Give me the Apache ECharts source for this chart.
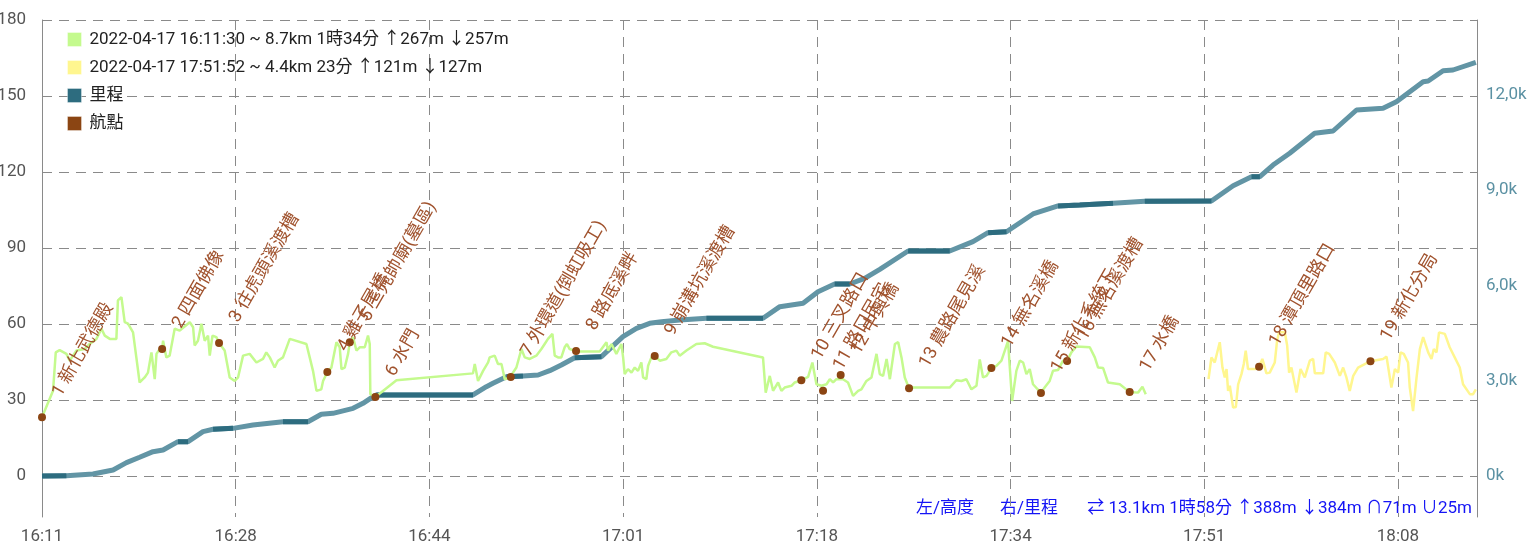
<!DOCTYPE html>
<html><head><meta charset="utf-8">
<script src="https://cdn.jsdelivr.net/npm/echarts@6/dist/echarts.min.js"></script>
<style>html,body{margin:0;padding:0;background:#fff}#c{width:1530px;height:544px}</style>
</head><body><div id="c"></div>
<script>
// ---- data ----
const START = '16:11:30';
const X_MAX_SEC = 7408;
const xTickLabels = ['16:11','16:28','16:44','17:01','17:18','17:34','17:51','18:08'];
const rightTickLabels = ['0k','3,0k','6,0k','9,0k','12,0k'];
const seriesNames = ['2022-04-17 16:11:30 ~ 8.7km 1時34分 ↑267m ↓257m','2022-04-17 17:51:52 ~ 4.4km 23分 ↑121m ↓127m','里程','航點'];
const summaryTexts = ['左/高度','右/里程','⇄ 13.1km 1時58分 ↑388m ↓384m ∩71m ∪25m'];

// [seconds since START, altitude m]
const track1 = [[0,23.2],[57,33.6],[71,48.8],[91,49.7],[126,48.2],[143,45.5],[160,47.5],[178,49.5],[220,50.1],[246,52.1],[281,54.1],[307,58.1],[324,55.4],[350,54.1],[384,54.1],[392,69.3],[410,70.6],[427,60.7],[444,60.1],[470,56.7],[487,46.8],[504,36.9],[530,38.9],[547,40.8],[565,48.8],[573,48.2],[582,38.2],[591,48.2],[608,50.1],[620,50.1],[625,53.4],[642,46.8],[659,47.5],[685,58.1],[711,57.4],[763,60.7],[780,58.7],[788,51.5],[805,53.4],[823,60.1],[840,53.4],[857,55.4],[866,47.5],[880,55.4],[900,54.8],[914,52.5],[943,49.5],[969,38.9],[995,37.5],[1012,38.9],[1038,47.5],[1072,48.2],[1107,44.8],[1141,46.2],[1158,48.8],[1176,46.8],[1201,42.8],[1218,45.5],[1244,46.8],[1279,54.1],[1365,52.1],[1382,46.8],[1399,41.5],[1417,33.6],[1442,34.2],[1451,37.5],[1473,41.0],[1494,42.8],[1520,52.8],[1537,50.8],[1546,42.2],[1563,42.8],[1580,48.2],[1589,52.8],[1606,54.8],[1623,49.5],[1640,50.8],[1666,50.8],[1683,55.4],[1692,52.1],[1695,32.3],[1721,31.2],[1830,37.8],[2225,40.5],[2234,44.2],[2251,37.5],[2277,41.5],[2303,44.8],[2311,46.8],[2337,47.5],[2354,44.2],[2372,44.2],[2389,38.2],[2415,38.9],[2449,42.8],[2475,50.1],[2492,46.8],[2518,46.2],[2552,47.5],[2578,50.1],[2595,52.1],[2612,54.1],[2635,56.1],[2647,47.5],[2664,46.8],[2681,46.8],[2698,50.8],[2710,52.1],[2724,50.1],[2757,49.3],[2776,49.1],[2879,49.1],[2914,52.8],[2922,49.5],[2940,52.1],[2965,48.2],[2991,52.1],[3000,46.8],[3008,40.2],[3025,42.2],[3043,40.8],[3060,42.8],[3077,41.5],[3094,44.8],[3103,38.9],[3120,38.2],[3129,43.5],[3146,46.8],[3163,47.4],[3189,45.5],[3223,46.2],[3249,48.8],[3275,49.5],[3292,47.5],[3327,49.5],[3378,52.1],[3421,52.4],[3464,51.0],[3722,46.8],[3736,32.9],[3757,39.5],[3774,33.6],[3800,36.9],[3817,33.6],[3834,34.9],[3869,35.6],[3886,36.9],[3920,37.8],[3955,39.1],[3977,44.8],[3998,36.2],[4024,35.6],[4032,35.0],[4050,36.2],[4067,38.2],[4084,36.9],[4101,38.2],[4135,38.2],[4161,36.9],[4187,31.6],[4213,33.6],[4230,34.2],[4256,37.5],[4282,38.9],[4308,48.2],[4325,40.2],[4342,39.5],[4360,46.2],[4377,38.2],[4403,52.1],[4420,52.8],[4437,46.8],[4454,38.9],[4476,34.6],[4497,34.9],[4686,34.9],[4720,37.8],[4746,37.5],[4772,38.2],[4798,34.2],[4824,35.6],[4841,46.0],[4858,38.9],[4876,39.5],[4901,42.6],[4927,43.5],[4953,45.5],[4987,53.2],[5008,29.6],[5030,41.5],[5048,45.5],[5065,44.8],[5082,40.2],[5099,42.2],[5116,36.2],[5157,32.8],[5176,34.9],[5202,37.5],[5219,41.5],[5245,41.8],[5271,45.5],[5292,45.4],[5314,48.8],[5340,51.1],[5409,50.8],[5435,46.8],[5452,42.8],[5478,42.6],[5503,36.9],[5564,36.2],[5615,33.1],[5658,32.9],[5681,35.2],[5698,32.3]];

const track2 = [[6022,38.2],[6037,46.8],[6054,44.8],[6080,52.8],[6094,42.8],[6106,38.9],[6115,42.2],[6123,33.6],[6132,35.6],[6149,27.0],[6163,27.2],[6175,36.2],[6192,40.2],[6204,44.2],[6214,49.5],[6226,42.2],[6261,42.2],[6283,43.1],[6300,46.2],[6321,40.5],[6338,40.8],[6364,44.8],[6376,53.4],[6386,56.7],[6416,56.7],[6428,51.5],[6438,40.8],[6450,42.8],[6476,32.9],[6497,42.2],[6519,38.9],[6545,45.5],[6562,46.2],[6571,40.5],[6614,40.5],[6627,48.8],[6645,48.2],[6674,44.8],[6700,39.5],[6717,42.8],[6734,38.9],[6751,33.6],[6769,39.5],[6794,42.8],[6858,45.3],[6923,46.2],[6941,47.1],[6966,34.9],[6984,42.2],[7001,40.8],[7013,48.8],[7030,48.2],[7052,44.8],[7061,34.9],[7078,25.6],[7096,38.9],[7113,50.1],[7130,54.8],[7156,48.8],[7173,46.2],[7185,50.1],[7199,48.8],[7212,56.7],[7242,56.1],[7267,50.8],[7293,46.8],[7319,42.8],[7336,36.2],[7371,32.3],[7388,32.3],[7402,34.2]];

// [seconds since START, cumulative distance m]
const mileage = [[0,0],[126,10],[263,63],[367,189],[436,420],[504,590],[573,766],[625,818],[702,1080],[754,1080],[831,1395],[883,1470],[986,1500],[1089,1605],[1244,1709],[1373,1709],[1442,1942],[1502,1973],[1606,2130],[1657,2288],[1709,2497],[1726,2550],[2225,2550],[2294,2811],[2328,2918],[2398,3126],[2483,3148],[2561,3180],[2621,3315],[2681,3494],[2750,3724],[2888,3756],[2999,4385],[3069,4649],[3137,4807],[3198,4857],[3292,4911],[3430,4964],[3722,4964],[3809,5330],[3929,5437],[4006,5802],[4092,6044],[4170,6044],[4247,6223],[4325,6507],[4471,7083],[4686,7083],[4806,7376],[4884,7659],[4979,7690],[5116,8248],[5245,8500],[5357,8532],[5529,8584],[5693,8647],[6037,8657],[6149,9139],[6244,9422],[6287,9422],[6355,9790],[6441,10159],[6570,10788],[6665,10861],[6786,11522],[6923,11575],[6992,11783],[7130,12413],[7156,12435],[7233,12759],[7284,12781],[7402,13023]];

const waypointNames = ['1 新化武德殿','2 四面佛像','3 往虎頭溪渡槽','4 雞子尾橋','5 三元帥廟(墓區)','6 水門','7 外環道(倒虹吸工)','8 路底溪畔','9 崩溝坑溪渡槽','10 三叉路口','11 路口民宅','12 中興橋','13 農路尾見溪','14 無名溪橋','15 新化系統下','16 無名溪渡槽','17 水橋','18 潭頂里路口','19 新化分局'];
const waypointTimes = ['16:11:30','16:21:50','16:26:44','16:36:03','16:37:59','16:40:11','16:51:50','16:57:27','17:04:13','17:16:50','17:18:42','17:20:13','17:26:06','17:33:11','17:37:27','17:39:42','17:45:05','17:56:13','18:05:48'];
const waypointAlts = [23.2,50.1,52.5,41.0,52.8,31.2,39.1,49.3,47.4,37.8,33.6,39.9,34.6,42.6,32.8,45.4,33.1,43.1,45.3];

// ---- build ----
const toSec = s => { const p = s.split(':').map(Number); return p[0]*3600 + p[1]*60 + p[2]; };
const t0 = toSec(START);
const waypoints = waypointNames.map((n, i) => [toSec(waypointTimes[i]) - t0, waypointAlts[i], n]);

// flat stretches of the distance line drawn darker
const flatParts = [];
for (let i = 1; i < mileage.length; i++) {
  const a = mileage[i-1], b = mileage[i];
  if ((b[1]-a[1]) / (b[0]-a[0]) < 0.35) { flatParts.push(a, b, [b[0], null]); }
}

const FONT = 'Roboto, "Noto Sans CJK TC", sans-serif';
const GREEN = '#c4fa8e', YELLOW = '#fff68f', TEAL = '#2d6c7f', TEAL_L = '#6295a5', BROWN = '#8b4513';
const GRIDC = '#8a8a8a';
const dash = [10, 7];

const chart = echarts.init(document.getElementById('c'));
chart.setOption({
  animation: false,
  textStyle: { fontFamily: FONT },
  grid: [
    { left: 42, right: 53, top: 20, bottom: 27, outerBoundsMode: 'none', containLabel: false },
    { left: 42, right: 53, top: 20, bottom: 68, outerBoundsMode: 'none', containLabel: false }
  ],
  legend: {
    data: seriesNames, orient: 'vertical', left: 62, top: 26,
    icon: 'rect', itemWidth: 14, itemHeight: 14, itemGap: 11,
    itemStyle: { borderColor: 'rgba(255,255,255,0.35)', borderWidth: 1 },
    textStyle: { fontSize: 17, color: '#222', fontFamily: FONT, padding: [0, 0, 0, 3] }
  },
  xAxis: [
    { type: 'value', gridIndex: 0, min: 0, max: X_MAX_SEC, interval: 1000,
      axisLine: { show: false }, axisTick: { show: false },
      axisLabel: { showMaxLabel: false, color: '#555', fontSize: 17, margin: 11,
        formatter: v => { const i = Math.round(v/1000); return Math.abs(v - i*1000) < 1 && xTickLabels[i] ? xTickLabels[i] : ''; } },
      splitLine: { show: true, lineStyle: { color: GRIDC, type: dash, width: 1 } } },
    { type: 'value', gridIndex: 1, min: 0, max: 1, show: false }
  ],
  yAxis: [
    { type: 'value', gridIndex: 0, min: -16.2, max: 180, position: 'left',
      axisLine: { show: true, lineStyle: { color: GRIDC } }, axisTick: { show: false },
      axisLabel: { showMinLabel: false, color: '#555', fontSize: 17, margin: 16 },
      splitLine: { show: false } },
    { type: 'value', gridIndex: 0, min: -1291, max: 14355, position: 'right',
      axisLine: { show: true, lineStyle: { color: GRIDC } }, axisTick: { show: false },
      axisLabel: { showMinLabel: false, showMaxLabel: false, color: '#5b91a3', fontSize: 17, margin: 9,
        formatter: v => { const i = Math.round(v/3000); return Math.abs(v - i*3000) < 1 && rightTickLabels[i] ? rightTickLabels[i] : ''; } },
      splitLine: { show: false } },
    { type: 'value', gridIndex: 1, min: 0, max: 180, interval: 30,
      axisLine: { show: false }, axisTick: { show: false }, axisLabel: { show: false },
      splitLine: { show: true, lineStyle: { color: GRIDC, type: dash, width: 1 } } }
  ],
  series: [
    { name: seriesNames[0], type: 'line', xAxisIndex: 0, yAxisIndex: 0, data: track1, showSymbol: false,
      itemStyle: { color: GREEN }, lineStyle: { color: GREEN, width: 2.5 }, z: 3 },
    { name: seriesNames[1], type: 'line', xAxisIndex: 0, yAxisIndex: 0, data: track2, showSymbol: false,
      itemStyle: { color: YELLOW }, lineStyle: { color: YELLOW, width: 2.5 }, z: 3 },
    { name: seriesNames[2], type: 'line', xAxisIndex: 0, yAxisIndex: 1, data: mileage, showSymbol: false,
      itemStyle: { color: TEAL }, lineStyle: { color: TEAL_L, width: 5 }, z: 2, clip: false },
    { name: seriesNames[2], type: 'line', xAxisIndex: 0, yAxisIndex: 1, data: flatParts, showSymbol: false,
      connectNulls: false, itemStyle: { color: TEAL }, lineStyle: { color: TEAL, width: 5 }, z: 2, clip: false },
    { name: seriesNames[3], type: 'scatter', xAxisIndex: 0, yAxisIndex: 0, data: waypoints,
      symbolSize: 8, itemStyle: { color: BROWN, opacity: 1 }, z: 5, clip: false,
      label: { show: true, formatter: p => p.data[2], rotate: 60, position: [19, -18],
        align: 'left', verticalAlign: 'middle', color: '#a0522d', fontSize: 18, fontFamily: FONT } }
  ],
  graphic: [
    { type: 'text', x: 916, y: 509, style: { text: summaryTexts[0], fill: '#1414f5', fontSize: 17, fontFamily: FONT, align: 'left', verticalAlign: 'middle' } },
    { type: 'text', x: 1000, y: 509, style: { text: summaryTexts[1], fill: '#1414f5', fontSize: 17, fontFamily: FONT, align: 'left', verticalAlign: 'middle' } },
    { type: 'text', x: 1472, y: 509, style: { text: summaryTexts[2], fill: '#1414f5', fontSize: 17, fontFamily: FONT, align: 'right', verticalAlign: 'middle' } }
  ]
});
</script></body></html>
